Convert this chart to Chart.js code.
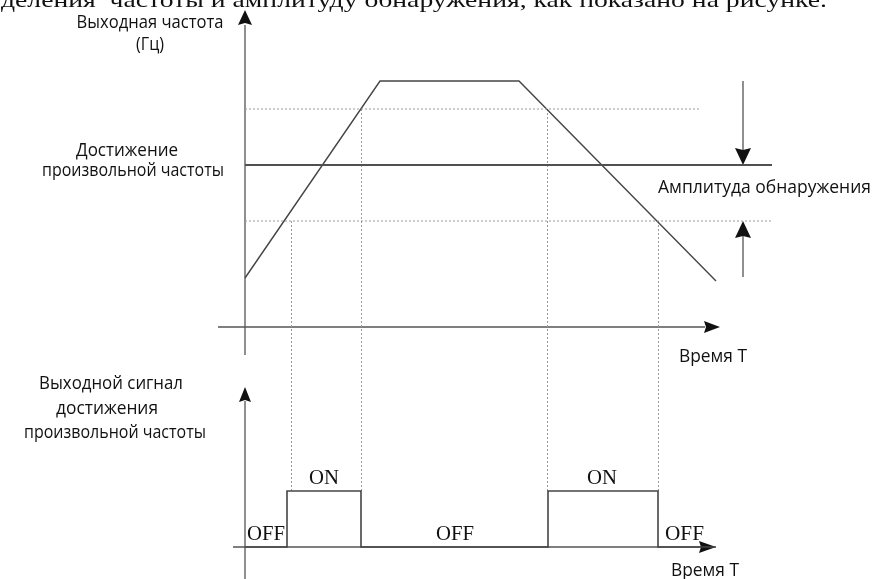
<!DOCTYPE html>
<html>
<head>
<meta charset="utf-8">
<script src="https://cdn.jsdelivr.net/npm/chart.js@4"></script>
<style>
  html, body { margin: 0; padding: 0; background: #fff; }
  #wrap { width: 874px; height: 579px; }
</style>
</head>
<body>
<div id="wrap"><canvas id="diagram" width="874" height="579"></canvas></div>
<script>
// time axis (T) and frequency profile of the output
const rampTime = [0, 135, 274, 471];
const rampFreq = [49, 246, 246, 46];

// arbitrary reach frequency and detection amplitude
const targetFreq = 162;
const detectAmp = 56;
const targetEnd = 527;
const upperEnd = 454;
const lowerEnd = 527;

// output signal: ON between these times
const onStart = [42, 303];
const onEnd = [116, 413];
const onLevel = 56;
const signalEnd = 471;

// dotted guides from the band crossings down to the signal
const guideTime = [46, 116, 302, 413];
const guideFreq = [targetFreq - detectAmp, targetFreq + detectAmp, targetFreq + detectAmp, targetFreq - detectAmp];

const lineColor = '#454545';
const axisColor = '#555';
const dotColor = '#9a9a9a';

const signalPts = [{ x: 0, y: 0 }];
onStart.forEach((s, i) => {
  signalPts.push({ x: s, y: 0 }, { x: s, y: onLevel }, { x: onEnd[i], y: onLevel }, { x: onEnd[i], y: 0 });
});
signalPts.push({ x: signalEnd, y: 0 });

const hLine = (y, x1) => [{ x: 0, y }, { x: x1, y }];

function arrowHead(ctx, tx, ty, dir, len, half) {
  // dir: 'up' | 'down' | 'right'
  ctx.beginPath();
  if (dir === 'up') {
    ctx.moveTo(tx, ty);
    ctx.lineTo(tx - half, ty + len);
    ctx.lineTo(tx, ty + len - 2);
    ctx.lineTo(tx + half, ty + len);
  } else if (dir === 'down') {
    ctx.moveTo(tx, ty);
    ctx.lineTo(tx - half, ty - len);
    ctx.lineTo(tx, ty - len + 2);
    ctx.lineTo(tx + half, ty - len);
  } else {
    ctx.moveTo(tx, ty);
    ctx.lineTo(tx - len, ty - half);
    ctx.lineTo(tx - len + 2, ty);
    ctx.lineTo(tx - len, ty + half);
  }
  ctx.closePath();
  ctx.fill();
}

// draw text at a given font size, squeezed horizontally to the given width
function fitText(ctx, text, x, y, width, size, family, align) {
  ctx.font = size + 'px ' + family;
  ctx.textAlign = 'left';
  const w = ctx.measureText(text).width;
  const left = align === 'center' ? x - width / 2 : x;
  ctx.save();
  ctx.translate(left, y);
  ctx.scale(width / w, 1);
  ctx.fillText(text, 0, 0);
  ctx.restore();
}

const decorPlugin = {
  id: 'decor',
  beforeDatasetsDraw(chart) {
    const { ctx, scales } = chart;
    const x = scales.x, yF = scales.yF, yS = scales.yS;
    ctx.save();
    ctx.strokeStyle = axisColor;
    ctx.fillStyle = '#111';
    ctx.lineWidth = 1.3;

    // top axes
    const x0 = x.getPixelForValue(0);
    const fy0 = yF.getPixelForValue(0);
    ctx.beginPath();
    ctx.moveTo(x0, yF.getPixelForValue(-28));
    ctx.lineTo(x0, yF.getPixelForValue(302));
    ctx.moveTo(x.getPixelForValue(-27), fy0);
    ctx.lineTo(x.getPixelForValue(460), fy0);
    ctx.stroke();
    arrowHead(ctx, x0, yF.getPixelForValue(317), 'up', 15, 7);
    arrowHead(ctx, x.getPixelForValue(475), fy0, 'right', 16, 6);

    // bottom axes
    const sy0 = yS.getPixelForValue(0);
    ctx.beginPath();
    ctx.moveTo(x0, yS.getPixelForValue(-32));
    ctx.lineTo(x0, yS.getPixelForValue(146));
    ctx.moveTo(x.getPixelForValue(-12), sy0);
    ctx.lineTo(x.getPixelForValue(456), sy0);
    ctx.stroke();
    arrowHead(ctx, x0, yS.getPixelForValue(160), 'up', 15, 6);
    arrowHead(ctx, x.getPixelForValue(471), sy0, 'right', 17, 6);

    // dotted guides between the two plots
    ctx.strokeStyle = dotColor;
    ctx.lineWidth = 1;
    ctx.setLineDash([2, 2]);
    guideTime.forEach((t, i) => {
      const px = Math.round(x.getPixelForValue(t)) + 0.5;
      ctx.beginPath();
      ctx.moveTo(px, yF.getPixelForValue(guideFreq[i]));
      ctx.lineTo(px, yS.getPixelForValue(onLevel));
      ctx.stroke();
    });
    ctx.setLineDash([]);

    // detection amplitude arrows
    const ax = x.getPixelForValue(498);
    const yt = yF.getPixelForValue(targetFreq);
    const yl = yF.getPixelForValue(targetFreq - detectAmp);
    ctx.strokeStyle = axisColor;
    ctx.lineWidth = 1.3;
    ctx.beginPath();
    ctx.moveTo(ax, yF.getPixelForValue(246));
    ctx.lineTo(ax, yt - 14);
    ctx.moveTo(ax, yl + 14);
    ctx.lineTo(ax, yF.getPixelForValue(50));
    ctx.stroke();
    arrowHead(ctx, ax, yt, 'down', 17, 8);
    arrowHead(ctx, ax, yl, 'up', 17, 8);
    ctx.restore();
  },
  afterDatasetsDraw(chart) {
    const { ctx } = chart;
    ctx.save();
    ctx.textBaseline = 'alphabetic';

    // cut-off line of body text at the top
    ctx.fillStyle = '#111';
    fitText(ctx, 'деления  частоты и амплитуду обнаружения, как показано на рисунке.', 1, 7, 826, 22, '"Liberation Serif"', 'left');

    ctx.fillStyle = '#111';
    const sans = '"Open Sans"';
    const fs = 18;
    fitText(ctx, 'Выходная частота', 150, 28, 147, fs, sans, 'center');
    fitText(ctx, '(Гц)', 150, 50, 28, fs, sans, 'center');
    fitText(ctx, 'Достижение', 127, 156, 102, fs, sans, 'center');
    fitText(ctx, 'произвольной частоты', 133, 176, 182, fs, sans, 'center');
    fitText(ctx, 'Амплитуда обнаружения', 658, 193, 213, fs, sans, 'left');
    fitText(ctx, 'Время T', 679, 362, 68, fs, sans, 'left');
    fitText(ctx, 'Выходной сигнал', 111, 389, 144, fs, sans, 'center');
    fitText(ctx, 'достижения', 107, 414, 102, fs, sans, 'center');
    fitText(ctx, 'произвольной частоты', 115, 438, 182, fs, sans, 'center');
    fitText(ctx, 'Время T', 671, 576, 68, fs, sans, 'left');

    ctx.fillStyle = '#111';
    const serif = '"Liberation Serif"';
    fitText(ctx, 'ON', 309, 484, 30, 20, serif, 'left');
    fitText(ctx, 'ON', 587, 484, 30, 20, serif, 'left');
    fitText(ctx, 'OFF', 247, 540, 38, 20, serif, 'left');
    fitText(ctx, 'OFF', 436, 540, 38, 20, serif, 'left');
    fitText(ctx, 'OFF', 665, 540, 39, 20, serif, 'left');
    ctx.restore();
  }
};

new Chart(document.getElementById('diagram'), {
  type: 'line',
  data: {
    datasets: [
      {
        label: 'upper',
        data: hLine(targetFreq + detectAmp, upperEnd),
        yAxisID: 'yF',
        borderColor: dotColor,
        borderWidth: 1,
        borderDash: [2, 2]
      },
      {
        label: 'lower',
        data: hLine(targetFreq - detectAmp, lowerEnd),
        yAxisID: 'yF',
        borderColor: dotColor,
        borderWidth: 1,
        borderDash: [2, 2]
      },
      {
        label: 'target',
        data: hLine(targetFreq, targetEnd),
        yAxisID: 'yF',
        borderColor: '#505050',
        borderWidth: 1.8
      },
      {
        label: 'frequency',
        data: rampTime.map((t, i) => ({ x: t, y: rampFreq[i] })),
        yAxisID: 'yF',
        borderColor: lineColor,
        borderWidth: 1.4
      },
      {
        label: 'signal',
        data: signalPts,
        yAxisID: 'yS',
        borderColor: lineColor,
        borderWidth: 1.6
      }
    ]
  },
  options: {
    responsive: false,
    animation: false,
    layout: { padding: 0 },
    elements: {
      point: { radius: 0 },
      line: { tension: 0, fill: false }
    },
    plugins: {
      legend: { display: false },
      tooltip: { enabled: false }
    },
    scales: {
      x: { type: 'linear', min: -245, max: 629, display: false },
      yF: { type: 'linear', min: -252, max: 327, display: false },
      yS: { type: 'linear', min: -32, max: 547, display: false }
    }
  },
  plugins: [decorPlugin]
});
</script>
</body>
</html>
